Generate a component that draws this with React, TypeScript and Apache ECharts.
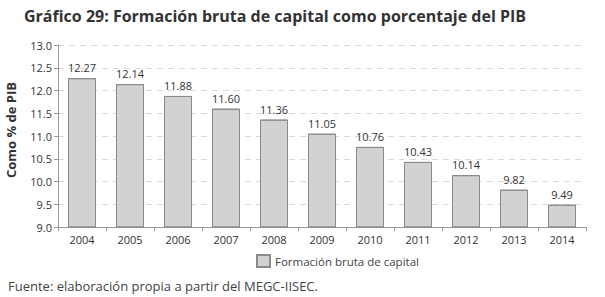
import React, { useEffect, useRef } from "react";
import * as echarts from "echarts";

const categories = ["2004", "2005", "2006", "2007", "2008", "2009", "2010", "2011", "2012", "2013", "2014"];
const values = [12.27, 12.14, 11.88, 11.6, 11.36, 11.05, 10.76, 10.43, 10.14, 9.82, 9.49];
const seriesName = "Formación bruta de capital";
const titleText = "Gráfico 29: Formación bruta de capital como porcentaje del PIB";
const sourceText = "Fuente: elaboración propia a partir del MEGC-IISEC.";
const yAxisName = "Como % de PIB";

export default function App() {
  const ref = useRef<HTMLDivElement>(null);
  useEffect(() => {
    if (!ref.current) return;
    const chart = echarts.init(ref.current, undefined, { renderer: "svg" });
    const font = "'Open Sans', 'DejaVu Sans', sans-serif";
    chart.setOption({
      animation: false,
      backgroundColor: "#ffffff",
      textStyle: { fontFamily: font },
      title: {
        text: titleText,
        left: 19,
        top: 3,
        textStyle: { fontSize: 16, fontWeight: "bold", color: "#333", fontFamily: font },
      },
      graphic: [
        {
          type: "text",
          left: 8,
          top: 279,
          style: { text: sourceText, fontSize: 13, fill: "#444", fontFamily: font },
        },
        {
          type: "text",
          x: 11,
          y: 130,
          rotation: Math.PI / 2,
          style: {
            text: yAxisName,
            fontSize: 13,
            fontWeight: "bold",
            fill: "#333",
            fontFamily: font,
            align: "center",
            verticalAlign: "middle",
          },
        },
      ],
      legend: {
        data: [{ name: seriesName, icon: "rect" }],
        top: 249,
        left: 251,
        itemWidth: 13,
        itemHeight: 12,
        itemGap: 5,
        textStyle: { fontSize: 11.5, color: "#444", fontFamily: font },
      },
      grid: { left: 58, right: 19, top: 45, bottom: 70, containLabel: false },
      xAxis: {
        type: "category",
        data: categories,
        axisLine: { lineStyle: { color: "#999" } },
        axisTick: { show: true, alignWithLabel: false, lineStyle: { color: "#999" }, length: 4 },
        axisLabel: { fontSize: 11, color: "#333", margin: 7 },
      },
      yAxis: {
        type: "value",
        min: 9,
        max: 13,
        interval: 0.5,
        axisLine: { show: true, lineStyle: { color: "#999" } },
        axisTick: { show: true, inside: false, length: 4, lineStyle: { color: "#999" } },
        axisLabel: { fontSize: 11, color: "#333", formatter: (v: number) => v.toFixed(1), margin: 6 },
        splitLine: { show: true, lineStyle: { color: "#d9d9d9", type: [6, 5] } },
      },
      series: [
        {
          name: seriesName,
          type: "bar",
          data: values,
          barWidth: 28,
          itemStyle: {
            color: "#d3d3d3",
            borderColor: "#8a8a8a",
            borderWidth: 1,
            decal: {
              symbol: "rect",
              symbolSize: 0.6,
              dashArrayX: [1, 1],
              dashArrayY: [1, 1],
              color: "rgba(150,150,150,0.35)",
              rotation: 0,
            },
          },
          label: {
            show: true,
            position: "top",
            distance: 5,
            fontSize: 11,
            color: "#333",
            formatter: (p: any) => p.value.toFixed(2),
          },
        },
      ],
      aria: { enabled: false, decal: { show: true } },
    });
    return () => chart.dispose();
  }, []);
  return <div ref={ref} style={{ position: "fixed", left: 0, top: 0, width: 605, height: 297 }} />;
}
